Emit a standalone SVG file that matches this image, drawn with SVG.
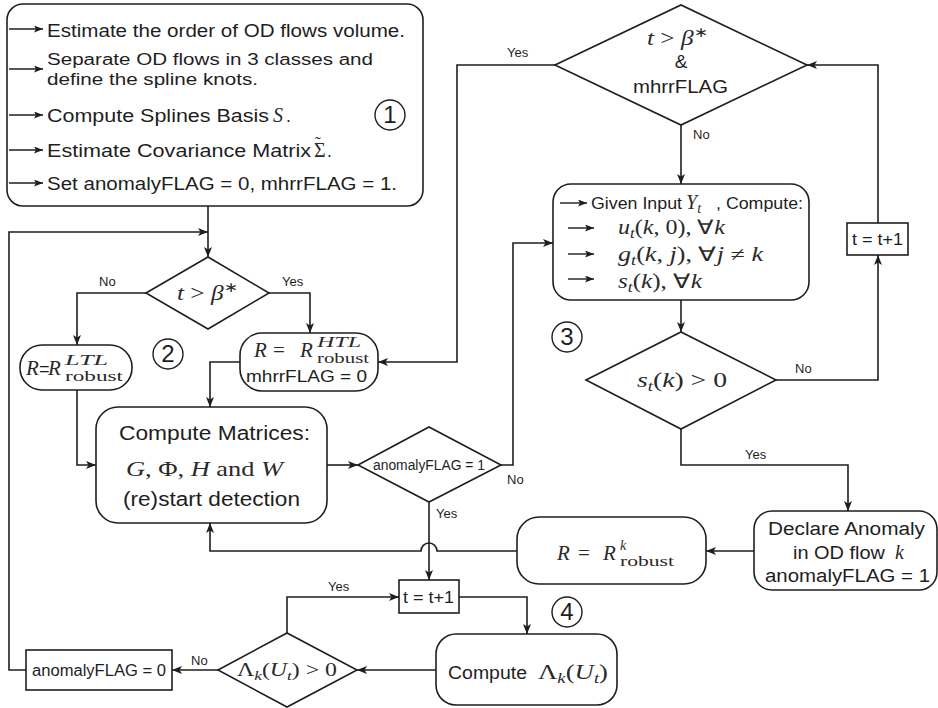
<svg xmlns="http://www.w3.org/2000/svg" width="938" height="708" viewBox="0 0 938 708">
<defs>
<style>
.ln{fill:none;stroke:#1e1e1e;stroke-width:1.6}
.nd{fill:#fff;stroke:#1e1e1e;stroke-width:1.6}
.s{font-family:"Liberation Sans",Arial,sans-serif;fill:#1e1e1e}
.m{font-family:"Liberation Serif","Times New Roman",serif;font-style:italic;fill:#2a2a2a}
.rm{font-style:normal}
.lb{font-family:"Liberation Sans",Arial,sans-serif;font-size:13px;fill:#1e1e1e}
.num{font-family:"Liberation Sans",Arial,sans-serif;font-size:24px;fill:#1e1e1e;text-anchor:middle}
.ba{fill:none;stroke:#1e1e1e;stroke-width:1.4;marker-end:url(#sa)}
</style>
<marker id="ah" viewBox="0 0 10 8" refX="10" refY="4" markerWidth="10" markerHeight="8" markerUnits="userSpaceOnUse" orient="auto"><path d="M0,0 L10,4 L0,8 L2.5,4 z" fill="#1e1e1e"/></marker>
<marker id="sa" viewBox="0 0 9 7" refX="9" refY="3.5" markerWidth="9" markerHeight="7" markerUnits="userSpaceOnUse" orient="auto"><path d="M0,0 L9,3.5 L0,7 L2,3.5 z" fill="#1e1e1e"/></marker>
</defs>
<rect width="938" height="708" fill="#fff"/>

<g id="connectors" class="ln" marker-end="url(#ah)">
<path d="M208,206 V257"/>
<path d="M26,670 H9 V232 H208"/>
<path d="M146,293 H77 V345"/>
<path d="M269,293 H310 V333"/>
<path d="M77,390 V465 H96"/>
<path d="M240,362 H210 V407"/>
<path d="M327,465 H358"/>
<path d="M501,465 H513 V243 H553"/>
<path d="M429,502 V580"/>
<path d="M555,65 H457 V362 H378"/>
<path d="M681,125 V184"/>
<path d="M681,300 V332"/>
<path d="M776,380 H878 V255"/>
<path d="M878,223 V65 H807"/>
<path d="M681,429 V465 H848 V511"/>
<path d="M754,551 H706"/>
<path d="M517,551 H437 A8,8 0 0 0 421,551 H210 V523"/>
<path d="M459,597 H527 V634"/>
<path d="M436,670 H357"/>
<path d="M218,670 H172"/>
<path d="M287,633 V597 H399"/>
</g>

<g id="labels">
<text class="lb" x="507" y="57">Yes</text>
<text class="lb" x="693" y="139">No</text>
<text class="lb" x="99" y="286">No</text>
<text class="lb" x="282" y="286">Yes</text>
<text class="lb" x="507" y="484">No</text>
<text class="lb" x="436" y="518">Yes</text>
<text class="lb" x="795" y="373">No</text>
<text class="lb" x="745" y="459">Yes</text>
<text class="lb" x="328" y="591">Yes</text>
<text class="lb" x="191" y="665">No</text>
</g>

<g id="init">
<rect class="nd" x="7" y="4" width="416" height="202" rx="16"/>
<path class="ba" d="M9,29 H43"/>
<path class="ba" d="M9,69 H43"/>
<path class="ba" d="M9,115 H43"/>
<path class="ba" d="M9,150 H43"/>
<path class="ba" d="M9,183 H43"/>
<text class="s" font-size="17.5" x="47" y="37" textLength="358" lengthAdjust="spacingAndGlyphs">Estimate the order of OD flows volume.</text>
<text class="s" font-size="16" x="47" y="65" textLength="326" lengthAdjust="spacingAndGlyphs">Separate OD flows in 3 classes and</text>
<text class="s" font-size="16" x="47" y="85" textLength="211" lengthAdjust="spacingAndGlyphs">define the spline knots.</text>
<text class="s" font-size="17.5" x="47" y="122" textLength="222" lengthAdjust="spacingAndGlyphs">Compute Splines Basis</text>
<text class="m" font-size="20" x="273" y="122">S</text>
<text class="s" font-size="17.5" x="286" y="122">.</text>
<text class="s" font-size="17.5" x="47" y="157" textLength="264" lengthAdjust="spacingAndGlyphs">Estimate Covariance Matrix</text>
<text class="m rm" font-size="20" x="314" y="157">Σ<tspan x="315" dy="-9" font-size="17">˜</tspan><tspan class="s" x="327" dy="9" font-size="17.5">.</tspan></text>
<text class="s" font-size="17.5" x="47" y="190" textLength="350" lengthAdjust="spacingAndGlyphs">Set anomalyFLAG = 0, mhrrFLAG = 1.</text>
<circle cx="390" cy="115" r="15" fill="none" stroke="#1e1e1e" stroke-width="1.4"/>
<text class="num" x="390" y="123">1</text>
</g>

<g id="d-beta">
<polygon class="nd" points="146,293 208,257 269,293 208,329"/>
<text class="m" font-size="21" x="177" y="300" textLength="61" lengthAdjust="spacingAndGlyphs">t<tspan class="rm"> &gt; </tspan>β<tspan class="rm" font-size="14" dy="-8">∗</tspan></text>
</g>

<g id="ltl">
<rect class="nd" x="20" y="345" width="112" height="45" rx="22"/>
<text class="m" font-size="21" x="26" y="375">R</text>
<text class="s" font-size="18" x="39" y="375">=</text>
<text class="m" font-size="21" x="48" y="375">R</text>
<text class="m" font-size="14" x="65" y="365" textLength="43" lengthAdjust="spacingAndGlyphs">LTL</text>
<text class="m rm" font-size="14" x="65" y="381" textLength="58" lengthAdjust="spacingAndGlyphs">robust</text>
</g>

<g id="circle2">
<circle cx="168" cy="354" r="15" fill="none" stroke="#1e1e1e" stroke-width="1.4"/>
<text class="num" x="168" y="362">2</text>
</g>

<g id="htl">
<rect class="nd" x="240" y="333" width="138" height="58" rx="22"/>
<text class="m" font-size="21" x="254" y="357">R</text>
<text class="m rm" font-size="21" x="273" y="357">=</text>
<text class="m" font-size="21" x="300" y="357">R</text>
<text class="m" font-size="14" x="317" y="347" textLength="44" lengthAdjust="spacingAndGlyphs">HTL</text>
<text class="m rm" font-size="14" x="317" y="363" textLength="52" lengthAdjust="spacingAndGlyphs">robust</text>
<text class="s" font-size="17" x="246" y="382" textLength="121" lengthAdjust="spacingAndGlyphs">mhrrFLAG = 0</text>
</g>

<g id="compute-matrices">
<rect class="nd" x="96" y="407" width="231" height="116" rx="22"/>
<text class="s" font-size="20" x="119" y="440" textLength="191" lengthAdjust="spacingAndGlyphs">Compute Matrices:</text>
<text class="m" font-size="21" x="126" y="476" textLength="157" lengthAdjust="spacingAndGlyphs">G<tspan class="rm">, Φ, </tspan>H<tspan class="rm"> and </tspan>W</text>
<text class="s" font-size="20" x="123" y="506" textLength="177" lengthAdjust="spacingAndGlyphs">(re)start detection</text>
</g>

<g id="d-flag1">
<polygon class="nd" points="358,465 429,427 501,465 429,502"/>
<text class="s" font-size="14" x="373" y="470" textLength="112" lengthAdjust="spacingAndGlyphs">anomalyFLAG = 1</text>
</g>

<g id="d-mhrr">
<polygon class="nd" points="555,65 681,5 807,65 681,125"/>
<text class="m" font-size="21" x="647" y="45" textLength="61" lengthAdjust="spacingAndGlyphs">t<tspan class="rm"> &gt; </tspan>β<tspan class="rm" font-size="14" dy="-8">∗</tspan></text>
<text class="s" font-size="19" x="681" y="68" text-anchor="middle">&amp;</text>
<text class="s" font-size="18" x="633" y="93" textLength="95" lengthAdjust="spacingAndGlyphs">mhrrFLAG</text>
</g>

<g id="given">
<rect class="nd" x="553" y="184" width="256" height="116" rx="18"/>
<path class="ba" d="M560,203 H587"/>
<path class="ba" d="M568,228 H594"/>
<path class="ba" d="M568,254 H594"/>
<path class="ba" d="M568,279 H594"/>
<text class="s" font-size="17" x="591" y="209" textLength="91" lengthAdjust="spacingAndGlyphs">Given Input</text>
<text class="m" font-size="20" x="686" y="209">Y<tspan font-size="14" dy="4">t</tspan></text>
<text class="s" font-size="17" x="716" y="209" textLength="87" lengthAdjust="spacingAndGlyphs">, Compute:</text>
<text class="m" font-size="20" x="618" y="234" textLength="107" lengthAdjust="spacingAndGlyphs">u<tspan font-size="14" dy="4">t</tspan><tspan class="rm" dy="-4">(</tspan>k<tspan class="rm">, 0), ∀</tspan>k</text>
<text class="m" font-size="20" x="618" y="261" textLength="145" lengthAdjust="spacingAndGlyphs">g<tspan font-size="14" dy="4">t</tspan><tspan class="rm" dy="-4">(</tspan>k<tspan class="rm">, </tspan>j<tspan class="rm">), ∀</tspan>j<tspan class="rm"> ≠ </tspan>k</text>
<text class="m" font-size="20" x="618" y="288" textLength="84" lengthAdjust="spacingAndGlyphs">s<tspan font-size="14" dy="4">t</tspan><tspan class="rm" dy="-4">(</tspan>k<tspan class="rm">), ∀</tspan>k</text>
</g>

<g id="t-inc-top">
<rect class="nd" x="847" y="223" width="61" height="32"/>
<text class="s" font-size="17" x="852" y="245" textLength="51" lengthAdjust="spacingAndGlyphs">t = t+1</text>
</g>

<g id="circle3">
<circle cx="567" cy="337" r="15" fill="none" stroke="#1e1e1e" stroke-width="1.4"/>
<text class="num" x="567" y="345">3</text>
</g>

<g id="d-st">
<polygon class="nd" points="586,380 681,332 776,380 681,429"/>
<text class="m" font-size="21" x="637" y="387" textLength="90" lengthAdjust="spacingAndGlyphs">s<tspan font-size="14" dy="4">t</tspan><tspan class="rm" dy="-4">(</tspan>k<tspan class="rm">) &gt; 0</tspan></text>
</g>

<g id="declare">
<rect class="nd" x="754" y="511" width="183" height="79" rx="18"/>
<text class="s" font-size="18" x="768" y="535" textLength="157" lengthAdjust="spacingAndGlyphs">Declare Anomaly</text>
<text class="s" font-size="18" x="793" y="559" textLength="92" lengthAdjust="spacingAndGlyphs">in OD flow</text>
<text class="m" font-size="20" x="895" y="559">k</text>
<text class="s" font-size="18" x="765" y="582" textLength="165" lengthAdjust="spacingAndGlyphs">anomalyFLAG = 1</text>
</g>

<g id="rk">
<rect class="nd" x="517" y="517" width="189" height="67" rx="22"/>
<text class="m" font-size="21" x="557" y="560">R</text>
<text class="m rm" font-size="21" x="578" y="560">=</text>
<text class="m" font-size="21" x="603" y="560">R</text>
<text class="m" font-size="14" x="620" y="550">k</text>
<text class="m rm" font-size="14" x="620" y="566" textLength="54" lengthAdjust="spacingAndGlyphs">robust</text>
</g>

<g id="t-inc-bottom">
<rect class="nd" x="399" y="580" width="60" height="33"/>
<text class="s" font-size="17" x="403" y="603" textLength="51" lengthAdjust="spacingAndGlyphs">t = t+1</text>
</g>

<g id="circle4">
<circle cx="567" cy="612" r="15" fill="none" stroke="#1e1e1e" stroke-width="1.4"/>
<text class="num" x="567" y="620">4</text>
</g>

<g id="compute-lambda">
<rect class="nd" x="436" y="634" width="181" height="71" rx="20"/>
<text class="s" font-size="18" x="448" y="679" textLength="79" lengthAdjust="spacingAndGlyphs">Compute</text>
<text class="m" font-size="20" x="538" y="679" textLength="70" lengthAdjust="spacingAndGlyphs"><tspan class="rm">Λ</tspan><tspan font-size="14" dy="4">k</tspan><tspan class="rm" dy="-4">(</tspan>U<tspan font-size="14" dy="4">t</tspan><tspan class="rm" dy="-4">)</tspan></text>
</g>

<g id="d-lambda">
<polygon class="nd" points="218,670 287,633 357,670 287,707"/>
<text class="m" font-size="18" x="237" y="676" textLength="100" lengthAdjust="spacingAndGlyphs"><tspan class="rm">Λ</tspan><tspan font-size="13" dy="4">k</tspan><tspan class="rm" dy="-4">(</tspan>U<tspan font-size="13" dy="4">t</tspan><tspan class="rm" dy="-4">) &gt; 0</tspan></text>
</g>

<g id="flag0">
<rect class="nd" x="26" y="650" width="146" height="40"/>
<text class="s" font-size="16" x="32" y="676" textLength="134" lengthAdjust="spacingAndGlyphs">anomalyFLAG = 0</text>
</g>
</svg>
